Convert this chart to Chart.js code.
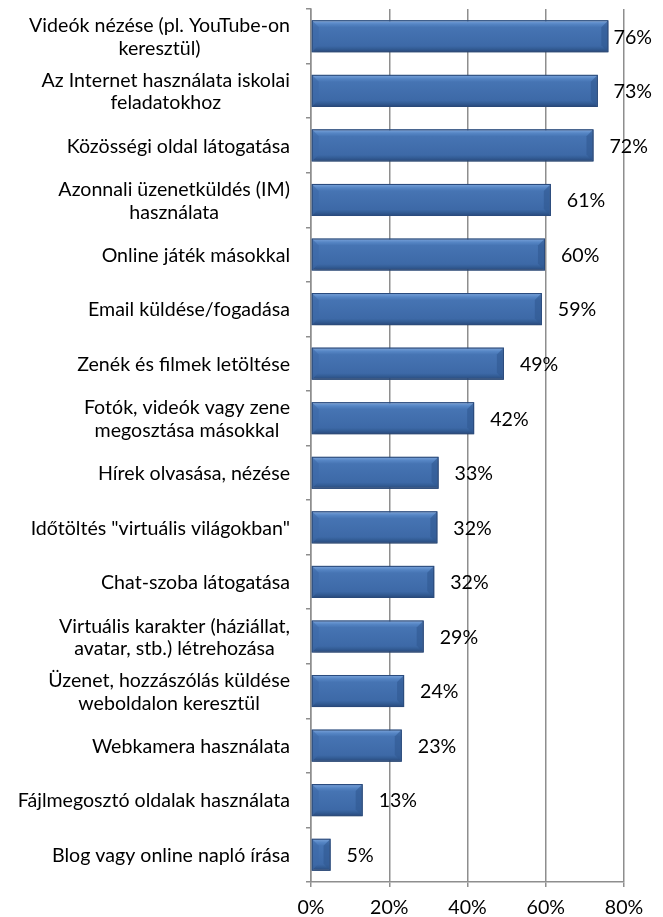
<!DOCTYPE html>
<html>
<head>
<meta charset="utf-8">
<script src="https://cdn.jsdelivr.net/npm/chart.js@4/dist/chart.umd.min.js"></script>
<style>
    body { margin: 0; background: #fff; }
    #wrap { width: 663px; height: 917px; }
</style>
</head>
<body>
<div id="wrap"><canvas id="canvas-chart"></canvas></div>
<script>
// Adatok
const categories = [
    ['Videók nézése (pl. YouTube-on', 'keresztül)'],
    ['Az Internet használata iskolai', 'feladatokhoz'],
    ['Közösségi oldal látogatása'],
    ['Azonnali üzenetküldés (IM)', 'használata'],
    ['Online játék másokkal'],
    ['Email küldése/fogadása'],
    ['Zenék és filmek letöltése'],
    ['Fotók, videók vagy zene', 'megosztása másokkal'],
    ['Hírek olvasása, nézése'],
    ['Időtöltés "virtuális világokban"'],
    ['Chat-szoba látogatása'],
    ['Virtuális karakter (háziállat,', 'avatar, stb.) létrehozása'],
    ['Üzenet, hozzászólás küldése', 'weboldalon keresztül'],
    ['Webkamera használata'],
    ['Fájlmegosztó oldalak használata'],
    ['Blog vagy online napló írása']
];
const values = [76.0, 73.3, 72.2, 61.3, 59.8, 59.0, 49.3, 41.7, 32.6, 32.3, 31.5, 28.8, 23.8, 23.2, 13.2, 5.0];
const valueLabels = ['76%', '73%', '72%', '61%', '60%', '59%', '49%', '42%', '33%', '32%', '32%', '29%', '24%', '23%', '13%', '5%'];
const xTicks = [0, 20, 40, 60, 80];

const FONT_SIZE = 19.6;
const FONT = FONT_SIZE + 'px Lato';
const GRID = '#8e8e8e';

const canvasChart = document.getElementById('canvas-chart');

// Oszlop szín: függőleges átmenet
const barFill = (context) => {
    const chart = context.chart;
    if (!chart.chartArea || context.type !== 'data') {
        return '#3f6ba9';
    }
    const y = chart.scales.y;
    const center = y.getPixelForValue(context.dataIndex);
    const half = (y.height / categories.length) * 0.588 / 2;
    const g = chart.ctx.createLinearGradient(0, center - half, 0, center + half);
    g.addColorStop(0, '#7ea6dc');
    g.addColorStop(0.12, '#5585c4');
    g.addColorStop(0.22, '#4674b3');
    g.addColorStop(0.8, '#3d69a7');
    g.addColorStop(0.88, '#345e97');
    g.addColorStop(1, '#28487a');
    return g;
};

// Árnyék az oszlopok alatt
const shadowPlugin = {
    id: 'shadow',
    beforeDatasetsDraw(chart) {
        const ctx = chart.ctx;
        ctx.save();
        ctx.shadowColor = 'rgba(0,0,0,0.35)';
        ctx.shadowBlur = 4;
        ctx.shadowOffsetX = 1;
        ctx.shadowOffsetY = 3;
    },
    afterDatasetsDraw(chart) {
        chart.ctx.restore();
    }
};

// Ferde élek az oszlopok végein
const bevelPlugin = {
    id: 'bevel',
    afterDatasetsDraw(chart) {
        const ctx = chart.ctx;
        const meta = chart.getDatasetMeta(0);
        const b = 7;
        ctx.save();
        meta.data.forEach((bar) => {
            const { x, y, base, height } = bar.getProps(['x', 'y', 'base', 'height'], true);
            const top = y - height / 2, bottom = y + height / 2;
            const left = base, right = x;
            const bb = Math.min(b, (right - left) / 2);
            // bal oldal
            ctx.fillStyle = 'rgba(61,105,167,0.6)';
            ctx.beginPath();
            ctx.moveTo(left, top);
            ctx.lineTo(left + bb, top + bb);
            ctx.lineTo(left + bb, bottom - bb);
            ctx.lineTo(left, bottom);
            ctx.closePath();
            ctx.fill();
            // jobb oldal
            ctx.fillStyle = 'rgba(48,88,145,0.6)';
            ctx.beginPath();
            ctx.moveTo(right, top);
            ctx.lineTo(right - bb, top + bb);
            ctx.lineTo(right - bb, bottom - bb);
            ctx.lineTo(right, bottom);
            ctx.closePath();
            ctx.fill();
            ctx.strokeStyle = '#2b4c7e';
            ctx.lineWidth = 1;
            ctx.strokeRect(left + 0.5, top + 0.5, right - left - 1, height - 1);
        });
        ctx.restore();
    }
};

// Kategória feliratok: jobbra zárt blokk, soronként középre
const catLabelPlugin = {
    id: 'catLabels',
    afterDraw(chart) {
        const ctx = chart.ctx;
        const y = chart.scales.y;
        const right = 290;
        const lh = 22.5;
        ctx.save();
        ctx.font = FONT;
        ctx.fillStyle = '#000';
        ctx.textAlign = 'center';
        ctx.textBaseline = 'middle';
        categories.forEach((lines, i) => {
            const cy = y.getPixelForValue(i) + 1;
            const w = Math.max(...lines.map(l => ctx.measureText(l).width));
            const cx = right - w / 2;
            const top = cy - (lines.length - 1) * lh / 2;
            lines.forEach((l, j) => ctx.fillText(l, cx, top + j * lh));
        });
        ctx.restore();
    }
};

// Érték feliratok az oszlopok mellett
const valueLabelPlugin = {
    id: 'valueLabels',
    afterDraw(chart) {
        const ctx = chart.ctx;
        const meta = chart.getDatasetMeta(0);
        ctx.save();
        ctx.font = FONT;
        ctx.fillStyle = '#000';
        ctx.textAlign = 'left';
        ctx.textBaseline = 'middle';
        meta.data.forEach((bar, i) => {
            const txt = valueLabels[i];
            const w = ctx.measureText(txt).width;
            const x = Math.min(bar.x + 16, 652 - w);
            ctx.fillText(txt, x, bar.y + 1);
        });
        ctx.restore();
    }
};

const chartConfig = {
    type: 'bar',
    data: {
        labels: categories,
        datasets: [
            {
                data: values,
                backgroundColor: barFill,
                borderColor: '#2b4c7e',
                borderWidth: 1,
                borderSkipped: false,
                barPercentage: 0.588,
                categoryPercentage: 1.0,
            }
        ]
    },
    options: {
        indexAxis: 'y',
        responsive: true,
        maintainAspectRatio: false,
        animation: false,
        layout: {
            padding: { top: 9, right: 39, left: 0, bottom: 0 }
        },
        scales: {
            x: {
                min: 0,
                max: 80,
                afterFit: (scale) => { scale.height = 35; },
                afterBuildTicks: (scale) => {
                    scale.ticks = xTicks.map(v => ({ value: v }));
                },
                ticks: {
                    color: '#000',
                    font: { family: 'Lato', size: FONT_SIZE },
                    padding: 9,
                    callback: (v) => v + '%',
                },
                grid: {
                    color: GRID,
                    lineWidth: 1.5,
                    drawTicks: true,
                    tickLength: 5,
                },
                border: { color: GRID, width: 1.5 },
            },
            y: {
                afterFit: (scale) => { scale.width = 311; },
                ticks: { display: false },
                grid: {
                    offset: true,
                    drawOnChartArea: false,
                    drawTicks: true,
                    tickLength: 5,
                    color: GRID,
                    lineWidth: 1.5,
                },
                border: { color: GRID, width: 1.5 },
            }
        },
        plugins: {
            legend: { display: false },
            tooltip: { enabled: false },
        }
    },
    plugins: [shadowPlugin, bevelPlugin, catLabelPlugin, valueLabelPlugin]
};

new Chart(canvasChart.getContext('2d'), chartConfig);
</script>
</body>
</html>
